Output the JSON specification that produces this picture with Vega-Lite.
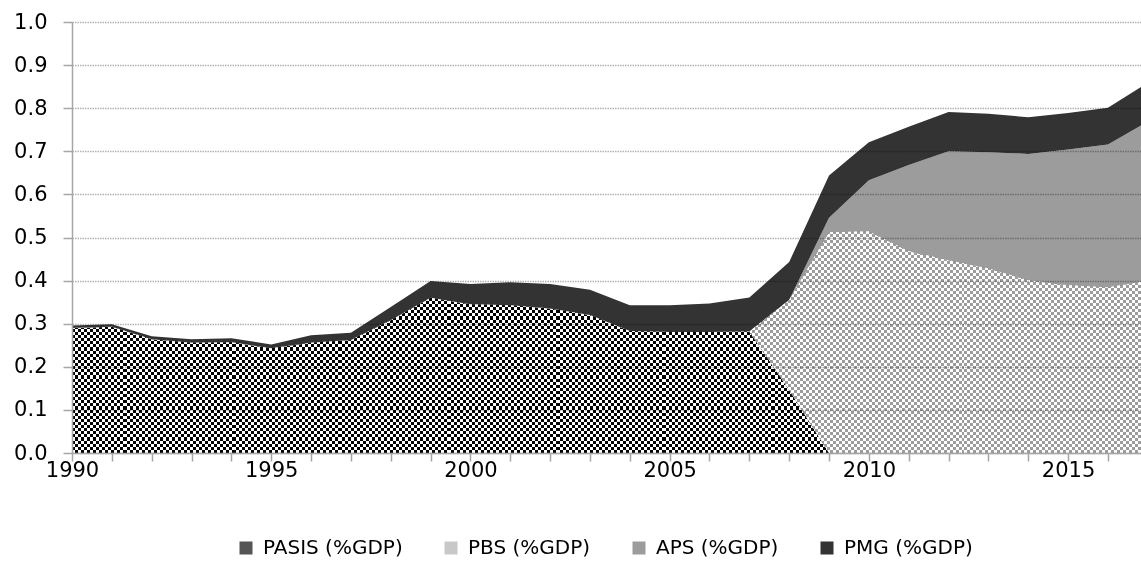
{
  "$schema": "https://vega.github.io/schema/vega-lite/v6.json",
  "width": 1069,
  "height": 431,
  "autosize": {"type": "none"},
  "padding": {"left": 72, "top": 22, "right": 0, "bottom": 110},
  "background": "#ffffff",
  "config": {"view": {"stroke": null}, "font": "DejaVu Sans"},
  "data": {
    "values": [
      {"year": 1990, "PASIS": 0.290, "PBS": 0, "APS": 0, "PMG": 0.006},
      {"year": 1991, "PASIS": 0.293, "PBS": 0, "APS": 0, "PMG": 0.006},
      {"year": 1992, "PASIS": 0.264, "PBS": 0, "APS": 0, "PMG": 0.007},
      {"year": 1993, "PASIS": 0.256, "PBS": 0, "APS": 0, "PMG": 0.008},
      {"year": 1994, "PASIS": 0.257, "PBS": 0, "APS": 0, "PMG": 0.009},
      {"year": 1995, "PASIS": 0.243, "PBS": 0, "APS": 0, "PMG": 0.009},
      {"year": 1996, "PASIS": 0.256, "PBS": 0, "APS": 0, "PMG": 0.017},
      {"year": 1997, "PASIS": 0.262, "PBS": 0, "APS": 0, "PMG": 0.017},
      {"year": 1998, "PASIS": 0.308, "PBS": 0, "APS": 0, "PMG": 0.031},
      {"year": 1999, "PASIS": 0.360, "PBS": 0, "APS": 0, "PMG": 0.039},
      {"year": 2000, "PASIS": 0.345, "PBS": 0, "APS": 0, "PMG": 0.047},
      {"year": 2001, "PASIS": 0.343, "PBS": 0, "APS": 0, "PMG": 0.053},
      {"year": 2002, "PASIS": 0.335, "PBS": 0, "APS": 0, "PMG": 0.057},
      {"year": 2003, "PASIS": 0.320, "PBS": 0, "APS": 0, "PMG": 0.059},
      {"year": 2004, "PASIS": 0.283, "PBS": 0, "APS": 0, "PMG": 0.060},
      {"year": 2005, "PASIS": 0.281, "PBS": 0, "APS": 0, "PMG": 0.062},
      {"year": 2006, "PASIS": 0.281, "PBS": 0, "APS": 0, "PMG": 0.066},
      {"year": 2007, "PASIS": 0.282, "PBS": 0, "APS": 0, "PMG": 0.079},
      {"year": 2008, "PASIS": 0.146, "PBS": 0.209, "APS": 0, "PMG": 0.088},
      {"year": 2009, "PASIS": 0, "PBS": 0.512, "APS": 0.034, "PMG": 0.098},
      {"year": 2010, "PASIS": 0, "PBS": 0.514, "APS": 0.119, "PMG": 0.088},
      {"year": 2011, "PASIS": 0, "PBS": 0.468, "APS": 0.200, "PMG": 0.089},
      {"year": 2012, "PASIS": 0, "PBS": 0.447, "APS": 0.253, "PMG": 0.091},
      {"year": 2013, "PASIS": 0, "PBS": 0.428, "APS": 0.270, "PMG": 0.089},
      {"year": 2014, "PASIS": 0, "PBS": 0.401, "APS": 0.293, "PMG": 0.085},
      {"year": 2015, "PASIS": 0, "PBS": 0.389, "APS": 0.315, "PMG": 0.085},
      {"year": 2016, "PASIS": 0, "PBS": 0.384, "APS": 0.332, "PMG": 0.085},
      {"year": 2017, "PASIS": 0, "PBS": 0.400, "APS": 0.369, "PMG": 0.090}
    ]
  },
  "transform": [
    {"fold": ["PASIS", "PBS", "APS", "PMG"], "as": ["series", "v"]},
    {"stack": "v", "groupby": ["year"], "as": ["y0", "y1"]}
  ],
  "encoding": {
    "x": {
      "field": "year", "type": "quantitative",
      "scale": {"domain": [1990, 2016.83], "nice": false, "zero": false},
      "axis": {
        "values": [1990, 1991, 1992, 1993, 1994, 1995, 1996, 1997, 1998, 1999, 2000, 2001, 2002, 2003, 2004, 2005, 2006, 2007, 2008, 2009, 2010, 2011, 2012, 2013, 2014, 2015, 2016],
        "labelExpr": "datum.value % 5 === 0 ? datum.label : ''",
        "format": "d", "title": null, "grid": false,
        "domainColor": "#a6a6a6", "domainWidth": 1.5,
        "tickColor": "#a6a6a6", "tickWidth": 1.5, "tickSize": 8,
        "labelFont": "DejaVu Sans", "labelFontSize": 21, "labelColor": "#000000",
        "labelPadding": -2, "labelOverlap": false, "labelFlush": false, "zindex": 1
      }
    },
    "y": {
      "field": "y1", "type": "quantitative",
      "scale": {"domain": [0, 1], "nice": false},
      "axis": {
        "values": [0, 0.1, 0.2, 0.3, 0.4, 0.5, 0.6, 0.7, 0.8, 0.9, 1],
        "format": ".1f", "title": null, "grid": true,
        "gridColor": "#000000", "gridOpacity": 0.3, "gridDash": [1.5, 1], "gridWidth": 1.4,
        "domainColor": "#a6a6a6", "domainWidth": 1.5,
        "tickColor": "#a6a6a6", "tickWidth": 1.5, "tickSize": 9,
        "labelFont": "DejaVu Sans", "labelFontSize": 21, "labelColor": "#000000",
        "labelPadding": 16, "zindex": 1
      }
    },
    "y2": {"field": "y0"}
  },
  "layer": [
    {
      "mark": {"type": "area"},
      "encoding": {
        "color": {
          "field": "series", "type": "nominal",
          "scale": {"domain": ["PASIS", "PBS", "APS", "PMG"], "range": ["#555555", "#c8c8c8", "#9c9c9c", "#333333"]},
          "legend": {
            "orient": "none", "legendX": 164, "legendY": 516, "direction": "horizontal",
            "title": null, "padding": 0, "symbolType": "square", "symbolSize": 169,
            "symbolStrokeWidth": 0, "symbolOpacity": 1,
            "labelFont": "DejaVu Sans", "labelFontSize": 20, "labelColor": "#000000",
            "labelOffset": 7, "columnPadding": 38,
            "labelExpr": "datum.label + ' (%GDP)'"
          }
        }
      }
    },
    {
      "transform": [{"filter": "datum.series === 'PASIS' && datum.year <= 2009"}],
      "mark": {"type": "area", "fill": {"gradient": "linear", "x1": 0, "y1": 0, "x2": 1, "y2": 0, "stops": [
        {"offset":0,"color":"#000"},
        {"offset":0.004,"color":"#000"},{"offset":0.004,"color":"#fff"},{"offset":0.008,"color":"#fff"},{"offset":0.008,"color":"#000"},{"offset":0.012,"color":"#000"},{"offset":0.012,"color":"#fff"},{"offset":0.016,"color":"#fff"},{"offset":0.016,"color":"#000"},{"offset":0.02,"color":"#000"},{"offset":0.02,"color":"#fff"},{"offset":0.024,"color":"#fff"},{"offset":0.024,"color":"#000"},{"offset":0.028,"color":"#000"},{"offset":0.028,"color":"#fff"},{"offset":0.032,"color":"#fff"},{"offset":0.032,"color":"#000"},{"offset":0.036,"color":"#000"},{"offset":0.036,"color":"#fff"},{"offset":0.04,"color":"#fff"},{"offset":0.04,"color":"#000"},
        {"offset":0.044,"color":"#000"},{"offset":0.044,"color":"#fff"},{"offset":0.048,"color":"#fff"},{"offset":0.048,"color":"#000"},{"offset":0.052,"color":"#000"},{"offset":0.052,"color":"#fff"},{"offset":0.056,"color":"#fff"},{"offset":0.056,"color":"#000"},{"offset":0.06,"color":"#000"},{"offset":0.06,"color":"#fff"},{"offset":0.064,"color":"#fff"},{"offset":0.064,"color":"#000"},{"offset":0.068,"color":"#000"},{"offset":0.068,"color":"#fff"},{"offset":0.072,"color":"#fff"},{"offset":0.072,"color":"#000"},{"offset":0.076,"color":"#000"},{"offset":0.076,"color":"#fff"},{"offset":0.08,"color":"#fff"},{"offset":0.08,"color":"#000"},
        {"offset":0.084,"color":"#000"},{"offset":0.084,"color":"#fff"},{"offset":0.088,"color":"#fff"},{"offset":0.088,"color":"#000"},{"offset":0.092,"color":"#000"},{"offset":0.092,"color":"#fff"},{"offset":0.096,"color":"#fff"},{"offset":0.096,"color":"#000"},{"offset":0.1,"color":"#000"},{"offset":0.1,"color":"#fff"},{"offset":0.104,"color":"#fff"},{"offset":0.104,"color":"#000"},{"offset":0.108,"color":"#000"},{"offset":0.108,"color":"#fff"},{"offset":0.112,"color":"#fff"},{"offset":0.112,"color":"#000"},{"offset":0.116,"color":"#000"},{"offset":0.116,"color":"#fff"},{"offset":0.12,"color":"#fff"},{"offset":0.12,"color":"#000"},
        {"offset":0.124,"color":"#000"},{"offset":0.124,"color":"#fff"},{"offset":0.128,"color":"#fff"},{"offset":0.128,"color":"#000"},{"offset":0.132,"color":"#000"},{"offset":0.132,"color":"#fff"},{"offset":0.136,"color":"#fff"},{"offset":0.136,"color":"#000"},{"offset":0.14,"color":"#000"},{"offset":0.14,"color":"#fff"},{"offset":0.144,"color":"#fff"},{"offset":0.144,"color":"#000"},{"offset":0.148,"color":"#000"},{"offset":0.148,"color":"#fff"},{"offset":0.152,"color":"#fff"},{"offset":0.152,"color":"#000"},{"offset":0.156,"color":"#000"},{"offset":0.156,"color":"#fff"},{"offset":0.16,"color":"#fff"},{"offset":0.16,"color":"#000"},
        {"offset":0.164,"color":"#000"},{"offset":0.164,"color":"#fff"},{"offset":0.168,"color":"#fff"},{"offset":0.168,"color":"#000"},{"offset":0.172,"color":"#000"},{"offset":0.172,"color":"#fff"},{"offset":0.176,"color":"#fff"},{"offset":0.176,"color":"#000"},{"offset":0.18,"color":"#000"},{"offset":0.18,"color":"#fff"},{"offset":0.184,"color":"#fff"},{"offset":0.184,"color":"#000"},{"offset":0.188,"color":"#000"},{"offset":0.188,"color":"#fff"},{"offset":0.192,"color":"#fff"},{"offset":0.192,"color":"#000"},{"offset":0.196,"color":"#000"},{"offset":0.196,"color":"#fff"},{"offset":0.2,"color":"#fff"},{"offset":0.2,"color":"#000"},
        {"offset":0.204,"color":"#000"},{"offset":0.204,"color":"#fff"},{"offset":0.208,"color":"#fff"},{"offset":0.208,"color":"#000"},{"offset":0.212,"color":"#000"},{"offset":0.212,"color":"#fff"},{"offset":0.216,"color":"#fff"},{"offset":0.216,"color":"#000"},{"offset":0.22,"color":"#000"},{"offset":0.22,"color":"#fff"},{"offset":0.224,"color":"#fff"},{"offset":0.224,"color":"#000"},{"offset":0.228,"color":"#000"},{"offset":0.228,"color":"#fff"},{"offset":0.232,"color":"#fff"},{"offset":0.232,"color":"#000"},{"offset":0.236,"color":"#000"},{"offset":0.236,"color":"#fff"},{"offset":0.24,"color":"#fff"},{"offset":0.24,"color":"#000"},
        {"offset":0.244,"color":"#000"},{"offset":0.244,"color":"#fff"},{"offset":0.248,"color":"#fff"},{"offset":0.248,"color":"#000"},{"offset":0.252,"color":"#000"},{"offset":0.252,"color":"#fff"},{"offset":0.256,"color":"#fff"},{"offset":0.256,"color":"#000"},{"offset":0.26,"color":"#000"},{"offset":0.26,"color":"#fff"},{"offset":0.264,"color":"#fff"},{"offset":0.264,"color":"#000"},{"offset":0.268,"color":"#000"},{"offset":0.268,"color":"#fff"},{"offset":0.272,"color":"#fff"},{"offset":0.272,"color":"#000"},{"offset":0.276,"color":"#000"},{"offset":0.276,"color":"#fff"},{"offset":0.28,"color":"#fff"},{"offset":0.28,"color":"#000"},
        {"offset":0.284,"color":"#000"},{"offset":0.284,"color":"#fff"},{"offset":0.288,"color":"#fff"},{"offset":0.288,"color":"#000"},{"offset":0.292,"color":"#000"},{"offset":0.292,"color":"#fff"},{"offset":0.296,"color":"#fff"},{"offset":0.296,"color":"#000"},{"offset":0.3,"color":"#000"},{"offset":0.3,"color":"#fff"},{"offset":0.304,"color":"#fff"},{"offset":0.304,"color":"#000"},{"offset":0.308,"color":"#000"},{"offset":0.308,"color":"#fff"},{"offset":0.312,"color":"#fff"},{"offset":0.312,"color":"#000"},{"offset":0.316,"color":"#000"},{"offset":0.316,"color":"#fff"},{"offset":0.32,"color":"#fff"},{"offset":0.32,"color":"#000"},
        {"offset":0.324,"color":"#000"},{"offset":0.324,"color":"#fff"},{"offset":0.328,"color":"#fff"},{"offset":0.328,"color":"#000"},{"offset":0.332,"color":"#000"},{"offset":0.332,"color":"#fff"},{"offset":0.336,"color":"#fff"},{"offset":0.336,"color":"#000"},{"offset":0.34,"color":"#000"},{"offset":0.34,"color":"#fff"},{"offset":0.344,"color":"#fff"},{"offset":0.344,"color":"#000"},{"offset":0.348,"color":"#000"},{"offset":0.348,"color":"#fff"},{"offset":0.352,"color":"#fff"},{"offset":0.352,"color":"#000"},{"offset":0.356,"color":"#000"},{"offset":0.356,"color":"#fff"},{"offset":0.36,"color":"#fff"},{"offset":0.36,"color":"#000"},
        {"offset":0.364,"color":"#000"},{"offset":0.364,"color":"#fff"},{"offset":0.368,"color":"#fff"},{"offset":0.368,"color":"#000"},{"offset":0.372,"color":"#000"},{"offset":0.372,"color":"#fff"},{"offset":0.376,"color":"#fff"},{"offset":0.376,"color":"#000"},{"offset":0.38,"color":"#000"},{"offset":0.38,"color":"#fff"},{"offset":0.384,"color":"#fff"},{"offset":0.384,"color":"#000"},{"offset":0.388,"color":"#000"},{"offset":0.388,"color":"#fff"},{"offset":0.392,"color":"#fff"},{"offset":0.392,"color":"#000"},{"offset":0.396,"color":"#000"},{"offset":0.396,"color":"#fff"},{"offset":0.4,"color":"#fff"},{"offset":0.4,"color":"#000"},
        {"offset":0.404,"color":"#000"},{"offset":0.404,"color":"#fff"},{"offset":0.408,"color":"#fff"},{"offset":0.408,"color":"#000"},{"offset":0.412,"color":"#000"},{"offset":0.412,"color":"#fff"},{"offset":0.416,"color":"#fff"},{"offset":0.416,"color":"#000"},{"offset":0.42,"color":"#000"},{"offset":0.42,"color":"#fff"},{"offset":0.424,"color":"#fff"},{"offset":0.424,"color":"#000"},{"offset":0.428,"color":"#000"},{"offset":0.428,"color":"#fff"},{"offset":0.432,"color":"#fff"},{"offset":0.432,"color":"#000"},{"offset":0.436,"color":"#000"},{"offset":0.436,"color":"#fff"},{"offset":0.44,"color":"#fff"},{"offset":0.44,"color":"#000"},
        {"offset":0.444,"color":"#000"},{"offset":0.444,"color":"#fff"},{"offset":0.448,"color":"#fff"},{"offset":0.448,"color":"#000"},{"offset":0.452,"color":"#000"},{"offset":0.452,"color":"#fff"},{"offset":0.456,"color":"#fff"},{"offset":0.456,"color":"#000"},{"offset":0.46,"color":"#000"},{"offset":0.46,"color":"#fff"},{"offset":0.464,"color":"#fff"},{"offset":0.464,"color":"#000"},{"offset":0.468,"color":"#000"},{"offset":0.468,"color":"#fff"},{"offset":0.472,"color":"#fff"},{"offset":0.472,"color":"#000"},{"offset":0.476,"color":"#000"},{"offset":0.476,"color":"#fff"},{"offset":0.48,"color":"#fff"},{"offset":0.48,"color":"#000"},
        {"offset":0.484,"color":"#000"},{"offset":0.484,"color":"#fff"},{"offset":0.488,"color":"#fff"},{"offset":0.488,"color":"#000"},{"offset":0.492,"color":"#000"},{"offset":0.492,"color":"#fff"},{"offset":0.496,"color":"#fff"},{"offset":0.496,"color":"#000"},{"offset":0.5,"color":"#000"},{"offset":0.5,"color":"#fff"},{"offset":0.504,"color":"#fff"},{"offset":0.504,"color":"#000"},{"offset":0.508,"color":"#000"},{"offset":0.508,"color":"#fff"},{"offset":0.512,"color":"#fff"},{"offset":0.512,"color":"#000"},{"offset":0.516,"color":"#000"},{"offset":0.516,"color":"#fff"},{"offset":0.52,"color":"#fff"},{"offset":0.52,"color":"#000"},
        {"offset":0.524,"color":"#000"},{"offset":0.524,"color":"#fff"},{"offset":0.528,"color":"#fff"},{"offset":0.528,"color":"#000"},{"offset":0.532,"color":"#000"},{"offset":0.532,"color":"#fff"},{"offset":0.536,"color":"#fff"},{"offset":0.536,"color":"#000"},{"offset":0.54,"color":"#000"},{"offset":0.54,"color":"#fff"},{"offset":0.544,"color":"#fff"},{"offset":0.544,"color":"#000"},{"offset":0.548,"color":"#000"},{"offset":0.548,"color":"#fff"},{"offset":0.552,"color":"#fff"},{"offset":0.552,"color":"#000"},{"offset":0.556,"color":"#000"},{"offset":0.556,"color":"#fff"},{"offset":0.56,"color":"#fff"},{"offset":0.56,"color":"#000"},
        {"offset":0.564,"color":"#000"},{"offset":0.564,"color":"#fff"},{"offset":0.568,"color":"#fff"},{"offset":0.568,"color":"#000"},{"offset":0.572,"color":"#000"},{"offset":0.572,"color":"#fff"},{"offset":0.576,"color":"#fff"},{"offset":0.576,"color":"#000"},{"offset":0.58,"color":"#000"},{"offset":0.58,"color":"#fff"},{"offset":0.584,"color":"#fff"},{"offset":0.584,"color":"#000"},{"offset":0.588,"color":"#000"},{"offset":0.588,"color":"#fff"},{"offset":0.592,"color":"#fff"},{"offset":0.592,"color":"#000"},{"offset":0.596,"color":"#000"},{"offset":0.596,"color":"#fff"},{"offset":0.6,"color":"#fff"},{"offset":0.6,"color":"#000"},
        {"offset":0.604,"color":"#000"},{"offset":0.604,"color":"#fff"},{"offset":0.608,"color":"#fff"},{"offset":0.608,"color":"#000"},{"offset":0.612,"color":"#000"},{"offset":0.612,"color":"#fff"},{"offset":0.616,"color":"#fff"},{"offset":0.616,"color":"#000"},{"offset":0.62,"color":"#000"},{"offset":0.62,"color":"#fff"},{"offset":0.624,"color":"#fff"},{"offset":0.624,"color":"#000"},{"offset":0.628,"color":"#000"},{"offset":0.628,"color":"#fff"},{"offset":0.632,"color":"#fff"},{"offset":0.632,"color":"#000"},{"offset":0.636,"color":"#000"},{"offset":0.636,"color":"#fff"},{"offset":0.64,"color":"#fff"},{"offset":0.64,"color":"#000"},
        {"offset":0.644,"color":"#000"},{"offset":0.644,"color":"#fff"},{"offset":0.648,"color":"#fff"},{"offset":0.648,"color":"#000"},{"offset":0.652,"color":"#000"},{"offset":0.652,"color":"#fff"},{"offset":0.656,"color":"#fff"},{"offset":0.656,"color":"#000"},{"offset":0.66,"color":"#000"},{"offset":0.66,"color":"#fff"},{"offset":0.664,"color":"#fff"},{"offset":0.664,"color":"#000"},{"offset":0.668,"color":"#000"},{"offset":0.668,"color":"#fff"},{"offset":0.672,"color":"#fff"},{"offset":0.672,"color":"#000"},{"offset":0.676,"color":"#000"},{"offset":0.676,"color":"#fff"},{"offset":0.68,"color":"#fff"},{"offset":0.68,"color":"#000"},
        {"offset":0.684,"color":"#000"},{"offset":0.684,"color":"#fff"},{"offset":0.688,"color":"#fff"},{"offset":0.688,"color":"#000"},{"offset":0.692,"color":"#000"},{"offset":0.692,"color":"#fff"},{"offset":0.696,"color":"#fff"},{"offset":0.696,"color":"#000"},{"offset":0.7,"color":"#000"},{"offset":0.7,"color":"#fff"},{"offset":0.704,"color":"#fff"},{"offset":0.704,"color":"#000"},{"offset":0.708,"color":"#000"},{"offset":0.708,"color":"#fff"},{"offset":0.712,"color":"#fff"},{"offset":0.712,"color":"#000"},{"offset":0.716,"color":"#000"},{"offset":0.716,"color":"#fff"},{"offset":0.72,"color":"#fff"},{"offset":0.72,"color":"#000"},
        {"offset":0.724,"color":"#000"},{"offset":0.724,"color":"#fff"},{"offset":0.728,"color":"#fff"},{"offset":0.728,"color":"#000"},{"offset":0.732,"color":"#000"},{"offset":0.732,"color":"#fff"},{"offset":0.736,"color":"#fff"},{"offset":0.736,"color":"#000"},{"offset":0.74,"color":"#000"},{"offset":0.74,"color":"#fff"},{"offset":0.744,"color":"#fff"},{"offset":0.744,"color":"#000"},{"offset":0.748,"color":"#000"},{"offset":0.748,"color":"#fff"},{"offset":0.752,"color":"#fff"},{"offset":0.752,"color":"#000"},{"offset":0.756,"color":"#000"},{"offset":0.756,"color":"#fff"},{"offset":0.76,"color":"#fff"},{"offset":0.76,"color":"#000"},
        {"offset":0.764,"color":"#000"},{"offset":0.764,"color":"#fff"},{"offset":0.768,"color":"#fff"},{"offset":0.768,"color":"#000"},{"offset":0.772,"color":"#000"},{"offset":0.772,"color":"#fff"},{"offset":0.776,"color":"#fff"},{"offset":0.776,"color":"#000"},{"offset":0.78,"color":"#000"},{"offset":0.78,"color":"#fff"},{"offset":0.784,"color":"#fff"},{"offset":0.784,"color":"#000"},{"offset":0.788,"color":"#000"},{"offset":0.788,"color":"#fff"},{"offset":0.792,"color":"#fff"},{"offset":0.792,"color":"#000"},{"offset":0.796,"color":"#000"},{"offset":0.796,"color":"#fff"},{"offset":0.8,"color":"#fff"},{"offset":0.8,"color":"#000"},
        {"offset":0.804,"color":"#000"},{"offset":0.804,"color":"#fff"},{"offset":0.808,"color":"#fff"},{"offset":0.808,"color":"#000"},{"offset":0.812,"color":"#000"},{"offset":0.812,"color":"#fff"},{"offset":0.816,"color":"#fff"},{"offset":0.816,"color":"#000"},{"offset":0.82,"color":"#000"},{"offset":0.82,"color":"#fff"},{"offset":0.824,"color":"#fff"},{"offset":0.824,"color":"#000"},{"offset":0.828,"color":"#000"},{"offset":0.828,"color":"#fff"},{"offset":0.832,"color":"#fff"},{"offset":0.832,"color":"#000"},{"offset":0.836,"color":"#000"},{"offset":0.836,"color":"#fff"},{"offset":0.84,"color":"#fff"},{"offset":0.84,"color":"#000"},
        {"offset":0.844,"color":"#000"},{"offset":0.844,"color":"#fff"},{"offset":0.848,"color":"#fff"},{"offset":0.848,"color":"#000"},{"offset":0.852,"color":"#000"},{"offset":0.852,"color":"#fff"},{"offset":0.856,"color":"#fff"},{"offset":0.856,"color":"#000"},{"offset":0.86,"color":"#000"},{"offset":0.86,"color":"#fff"},{"offset":0.864,"color":"#fff"},{"offset":0.864,"color":"#000"},{"offset":0.868,"color":"#000"},{"offset":0.868,"color":"#fff"},{"offset":0.872,"color":"#fff"},{"offset":0.872,"color":"#000"},{"offset":0.876,"color":"#000"},{"offset":0.876,"color":"#fff"},{"offset":0.88,"color":"#fff"},{"offset":0.88,"color":"#000"},
        {"offset":0.884,"color":"#000"},{"offset":0.884,"color":"#fff"},{"offset":0.888,"color":"#fff"},{"offset":0.888,"color":"#000"},{"offset":0.892,"color":"#000"},{"offset":0.892,"color":"#fff"},{"offset":0.896,"color":"#fff"},{"offset":0.896,"color":"#000"},{"offset":0.9,"color":"#000"},{"offset":0.9,"color":"#fff"},{"offset":0.904,"color":"#fff"},{"offset":0.904,"color":"#000"},{"offset":0.908,"color":"#000"},{"offset":0.908,"color":"#fff"},{"offset":0.912,"color":"#fff"},{"offset":0.912,"color":"#000"},{"offset":0.916,"color":"#000"},{"offset":0.916,"color":"#fff"},{"offset":0.92,"color":"#fff"},{"offset":0.92,"color":"#000"},
        {"offset":0.924,"color":"#000"},{"offset":0.924,"color":"#fff"},{"offset":0.928,"color":"#fff"},{"offset":0.928,"color":"#000"},{"offset":0.932,"color":"#000"},{"offset":0.932,"color":"#fff"},{"offset":0.936,"color":"#fff"},{"offset":0.936,"color":"#000"},{"offset":0.94,"color":"#000"},{"offset":0.94,"color":"#fff"},{"offset":0.944,"color":"#fff"},{"offset":0.944,"color":"#000"},{"offset":0.948,"color":"#000"},{"offset":0.948,"color":"#fff"},{"offset":0.952,"color":"#fff"},{"offset":0.952,"color":"#000"},{"offset":0.956,"color":"#000"},{"offset":0.956,"color":"#fff"},{"offset":0.96,"color":"#fff"},{"offset":0.96,"color":"#000"},
        {"offset":0.964,"color":"#000"},{"offset":0.964,"color":"#fff"},{"offset":0.968,"color":"#fff"},{"offset":0.968,"color":"#000"},{"offset":0.972,"color":"#000"},{"offset":0.972,"color":"#fff"},{"offset":0.976,"color":"#fff"},{"offset":0.976,"color":"#000"},{"offset":0.98,"color":"#000"},{"offset":0.98,"color":"#fff"},{"offset":0.984,"color":"#fff"},{"offset":0.984,"color":"#000"},{"offset":0.988,"color":"#000"},{"offset":0.988,"color":"#fff"},{"offset":0.992,"color":"#fff"},{"offset":0.992,"color":"#000"},{"offset":0.996,"color":"#000"},{"offset":0.996,"color":"#fff"},
        {"offset":1,"color":"#fff"}
      ]}}
    },
    {
      "transform": [{"filter": "datum.series === 'PASIS' && datum.year <= 2009"}],
      "mark": {"type": "area", "blend": "difference", "fill": {"gradient": "linear", "x1": 0, "y1": 0, "x2": 0, "y2": 1, "stops": [
        {"offset":0,"color":"#000"},
        {"offset":0.02,"color":"#000"},{"offset":0.02,"color":"#fff"},{"offset":0.04,"color":"#fff"},{"offset":0.04,"color":"#000"},{"offset":0.06,"color":"#000"},{"offset":0.06,"color":"#fff"},{"offset":0.08,"color":"#fff"},{"offset":0.08,"color":"#000"},{"offset":0.1,"color":"#000"},{"offset":0.1,"color":"#fff"},{"offset":0.12,"color":"#fff"},{"offset":0.12,"color":"#000"},{"offset":0.14,"color":"#000"},{"offset":0.14,"color":"#fff"},{"offset":0.16,"color":"#fff"},{"offset":0.16,"color":"#000"},{"offset":0.18,"color":"#000"},{"offset":0.18,"color":"#fff"},{"offset":0.2,"color":"#fff"},{"offset":0.2,"color":"#000"},
        {"offset":0.22,"color":"#000"},{"offset":0.22,"color":"#fff"},{"offset":0.24,"color":"#fff"},{"offset":0.24,"color":"#000"},{"offset":0.26,"color":"#000"},{"offset":0.26,"color":"#fff"},{"offset":0.28,"color":"#fff"},{"offset":0.28,"color":"#000"},{"offset":0.3,"color":"#000"},{"offset":0.3,"color":"#fff"},{"offset":0.32,"color":"#fff"},{"offset":0.32,"color":"#000"},{"offset":0.34,"color":"#000"},{"offset":0.34,"color":"#fff"},{"offset":0.36,"color":"#fff"},{"offset":0.36,"color":"#000"},{"offset":0.38,"color":"#000"},{"offset":0.38,"color":"#fff"},{"offset":0.4,"color":"#fff"},{"offset":0.4,"color":"#000"},
        {"offset":0.42,"color":"#000"},{"offset":0.42,"color":"#fff"},{"offset":0.44,"color":"#fff"},{"offset":0.44,"color":"#000"},{"offset":0.46,"color":"#000"},{"offset":0.46,"color":"#fff"},{"offset":0.48,"color":"#fff"},{"offset":0.48,"color":"#000"},{"offset":0.5,"color":"#000"},{"offset":0.5,"color":"#fff"},{"offset":0.52,"color":"#fff"},{"offset":0.52,"color":"#000"},{"offset":0.54,"color":"#000"},{"offset":0.54,"color":"#fff"},{"offset":0.56,"color":"#fff"},{"offset":0.56,"color":"#000"},{"offset":0.58,"color":"#000"},{"offset":0.58,"color":"#fff"},{"offset":0.6,"color":"#fff"},{"offset":0.6,"color":"#000"},
        {"offset":0.62,"color":"#000"},{"offset":0.62,"color":"#fff"},{"offset":0.64,"color":"#fff"},{"offset":0.64,"color":"#000"},{"offset":0.66,"color":"#000"},{"offset":0.66,"color":"#fff"},{"offset":0.68,"color":"#fff"},{"offset":0.68,"color":"#000"},{"offset":0.7,"color":"#000"},{"offset":0.7,"color":"#fff"},{"offset":0.72,"color":"#fff"},{"offset":0.72,"color":"#000"},{"offset":0.74,"color":"#000"},{"offset":0.74,"color":"#fff"},{"offset":0.76,"color":"#fff"},{"offset":0.76,"color":"#000"},{"offset":0.78,"color":"#000"},{"offset":0.78,"color":"#fff"},{"offset":0.8,"color":"#fff"},{"offset":0.8,"color":"#000"},
        {"offset":0.82,"color":"#000"},{"offset":0.82,"color":"#fff"},{"offset":0.84,"color":"#fff"},{"offset":0.84,"color":"#000"},{"offset":0.86,"color":"#000"},{"offset":0.86,"color":"#fff"},{"offset":0.88,"color":"#fff"},{"offset":0.88,"color":"#000"},{"offset":0.9,"color":"#000"},{"offset":0.9,"color":"#fff"},{"offset":0.92,"color":"#fff"},{"offset":0.92,"color":"#000"},{"offset":0.94,"color":"#000"},{"offset":0.94,"color":"#fff"},{"offset":0.96,"color":"#fff"},{"offset":0.96,"color":"#000"},{"offset":0.98,"color":"#000"},{"offset":0.98,"color":"#fff"},
        {"offset":1,"color":"#fff"}
      ]}}
    },
    {
      "transform": [{"filter": "datum.series === 'PBS' && datum.year >= 2007"}],
      "mark": {"type": "area", "fill": {"gradient": "linear", "x1": 0, "y1": 0, "x2": 1, "y2": 0, "stops": [
        {"offset":0,"color":"#000"},
        {"offset":0.0075,"color":"#000"},{"offset":0.0075,"color":"#fff"},{"offset":0.015,"color":"#fff"},{"offset":0.015,"color":"#000"},{"offset":0.0225,"color":"#000"},{"offset":0.0225,"color":"#fff"},{"offset":0.03,"color":"#fff"},{"offset":0.03,"color":"#000"},{"offset":0.0375,"color":"#000"},{"offset":0.0375,"color":"#fff"},{"offset":0.045,"color":"#fff"},{"offset":0.045,"color":"#000"},{"offset":0.0525,"color":"#000"},{"offset":0.0525,"color":"#fff"},{"offset":0.06,"color":"#fff"},{"offset":0.06,"color":"#000"},{"offset":0.0675,"color":"#000"},{"offset":0.0675,"color":"#fff"},{"offset":0.075,"color":"#fff"},{"offset":0.075,"color":"#000"},
        {"offset":0.0825,"color":"#000"},{"offset":0.0825,"color":"#fff"},{"offset":0.09,"color":"#fff"},{"offset":0.09,"color":"#000"},{"offset":0.0975,"color":"#000"},{"offset":0.0975,"color":"#fff"},{"offset":0.105,"color":"#fff"},{"offset":0.105,"color":"#000"},{"offset":0.1125,"color":"#000"},{"offset":0.1125,"color":"#fff"},{"offset":0.12,"color":"#fff"},{"offset":0.12,"color":"#000"},{"offset":0.1275,"color":"#000"},{"offset":0.1275,"color":"#fff"},{"offset":0.135,"color":"#fff"},{"offset":0.135,"color":"#000"},{"offset":0.1425,"color":"#000"},{"offset":0.1425,"color":"#fff"},{"offset":0.15,"color":"#fff"},{"offset":0.15,"color":"#000"},
        {"offset":0.1575,"color":"#000"},{"offset":0.1575,"color":"#fff"},{"offset":0.165,"color":"#fff"},{"offset":0.165,"color":"#000"},{"offset":0.1725,"color":"#000"},{"offset":0.1725,"color":"#fff"},{"offset":0.18,"color":"#fff"},{"offset":0.18,"color":"#000"},{"offset":0.1875,"color":"#000"},{"offset":0.1875,"color":"#fff"},{"offset":0.195,"color":"#fff"},{"offset":0.195,"color":"#000"},{"offset":0.2025,"color":"#000"},{"offset":0.2025,"color":"#fff"},{"offset":0.21,"color":"#fff"},{"offset":0.21,"color":"#000"},{"offset":0.2175,"color":"#000"},{"offset":0.2175,"color":"#fff"},{"offset":0.225,"color":"#fff"},{"offset":0.225,"color":"#000"},
        {"offset":0.2325,"color":"#000"},{"offset":0.2325,"color":"#fff"},{"offset":0.24,"color":"#fff"},{"offset":0.24,"color":"#000"},{"offset":0.2475,"color":"#000"},{"offset":0.2475,"color":"#fff"},{"offset":0.255,"color":"#fff"},{"offset":0.255,"color":"#000"},{"offset":0.2625,"color":"#000"},{"offset":0.2625,"color":"#fff"},{"offset":0.27,"color":"#fff"},{"offset":0.27,"color":"#000"},{"offset":0.2775,"color":"#000"},{"offset":0.2775,"color":"#fff"},{"offset":0.285,"color":"#fff"},{"offset":0.285,"color":"#000"},{"offset":0.2925,"color":"#000"},{"offset":0.2925,"color":"#fff"},{"offset":0.3,"color":"#fff"},{"offset":0.3,"color":"#000"},
        {"offset":0.3075,"color":"#000"},{"offset":0.3075,"color":"#fff"},{"offset":0.315,"color":"#fff"},{"offset":0.315,"color":"#000"},{"offset":0.3225,"color":"#000"},{"offset":0.3225,"color":"#fff"},{"offset":0.33,"color":"#fff"},{"offset":0.33,"color":"#000"},{"offset":0.3375,"color":"#000"},{"offset":0.3375,"color":"#fff"},{"offset":0.345,"color":"#fff"},{"offset":0.345,"color":"#000"},{"offset":0.3525,"color":"#000"},{"offset":0.3525,"color":"#fff"},{"offset":0.36,"color":"#fff"},{"offset":0.36,"color":"#000"},{"offset":0.3675,"color":"#000"},{"offset":0.3675,"color":"#fff"},{"offset":0.375,"color":"#fff"},{"offset":0.375,"color":"#000"},
        {"offset":0.3825,"color":"#000"},{"offset":0.3825,"color":"#fff"},{"offset":0.39,"color":"#fff"},{"offset":0.39,"color":"#000"},{"offset":0.3975,"color":"#000"},{"offset":0.3975,"color":"#fff"},{"offset":0.405,"color":"#fff"},{"offset":0.405,"color":"#000"},{"offset":0.4125,"color":"#000"},{"offset":0.4125,"color":"#fff"},{"offset":0.42,"color":"#fff"},{"offset":0.42,"color":"#000"},{"offset":0.4275,"color":"#000"},{"offset":0.4275,"color":"#fff"},{"offset":0.435,"color":"#fff"},{"offset":0.435,"color":"#000"},{"offset":0.4425,"color":"#000"},{"offset":0.4425,"color":"#fff"},{"offset":0.45,"color":"#fff"},{"offset":0.45,"color":"#000"},
        {"offset":0.4575,"color":"#000"},{"offset":0.4575,"color":"#fff"},{"offset":0.465,"color":"#fff"},{"offset":0.465,"color":"#000"},{"offset":0.4725,"color":"#000"},{"offset":0.4725,"color":"#fff"},{"offset":0.48,"color":"#fff"},{"offset":0.48,"color":"#000"},{"offset":0.4875,"color":"#000"},{"offset":0.4875,"color":"#fff"},{"offset":0.495,"color":"#fff"},{"offset":0.495,"color":"#000"},{"offset":0.5025,"color":"#000"},{"offset":0.5025,"color":"#fff"},{"offset":0.51,"color":"#fff"},{"offset":0.51,"color":"#000"},{"offset":0.5175,"color":"#000"},{"offset":0.5175,"color":"#fff"},{"offset":0.525,"color":"#fff"},{"offset":0.525,"color":"#000"},
        {"offset":0.5325,"color":"#000"},{"offset":0.5325,"color":"#fff"},{"offset":0.54,"color":"#fff"},{"offset":0.54,"color":"#000"},{"offset":0.5475,"color":"#000"},{"offset":0.5475,"color":"#fff"},{"offset":0.555,"color":"#fff"},{"offset":0.555,"color":"#000"},{"offset":0.5625,"color":"#000"},{"offset":0.5625,"color":"#fff"},{"offset":0.57,"color":"#fff"},{"offset":0.57,"color":"#000"},{"offset":0.5775,"color":"#000"},{"offset":0.5775,"color":"#fff"},{"offset":0.585,"color":"#fff"},{"offset":0.585,"color":"#000"},{"offset":0.5925,"color":"#000"},{"offset":0.5925,"color":"#fff"},{"offset":0.6,"color":"#fff"},{"offset":0.6,"color":"#000"},
        {"offset":0.6075,"color":"#000"},{"offset":0.6075,"color":"#fff"},{"offset":0.615,"color":"#fff"},{"offset":0.615,"color":"#000"},{"offset":0.6225,"color":"#000"},{"offset":0.6225,"color":"#fff"},{"offset":0.63,"color":"#fff"},{"offset":0.63,"color":"#000"},{"offset":0.6375,"color":"#000"},{"offset":0.6375,"color":"#fff"},{"offset":0.645,"color":"#fff"},{"offset":0.645,"color":"#000"},{"offset":0.6525,"color":"#000"},{"offset":0.6525,"color":"#fff"},{"offset":0.66,"color":"#fff"},{"offset":0.66,"color":"#000"},{"offset":0.6675,"color":"#000"},{"offset":0.6675,"color":"#fff"},{"offset":0.675,"color":"#fff"},{"offset":0.675,"color":"#000"},
        {"offset":0.6825,"color":"#000"},{"offset":0.6825,"color":"#fff"},{"offset":0.69,"color":"#fff"},{"offset":0.69,"color":"#000"},{"offset":0.6975,"color":"#000"},{"offset":0.6975,"color":"#fff"},{"offset":0.705,"color":"#fff"},{"offset":0.705,"color":"#000"},{"offset":0.7125,"color":"#000"},{"offset":0.7125,"color":"#fff"},{"offset":0.72,"color":"#fff"},{"offset":0.72,"color":"#000"},{"offset":0.7275,"color":"#000"},{"offset":0.7275,"color":"#fff"},{"offset":0.735,"color":"#fff"},{"offset":0.735,"color":"#000"},{"offset":0.7425,"color":"#000"},{"offset":0.7425,"color":"#fff"},{"offset":0.75,"color":"#fff"},{"offset":0.75,"color":"#000"},
        {"offset":0.7575,"color":"#000"},{"offset":0.7575,"color":"#fff"},{"offset":0.765,"color":"#fff"},{"offset":0.765,"color":"#000"},{"offset":0.7725,"color":"#000"},{"offset":0.7725,"color":"#fff"},{"offset":0.78,"color":"#fff"},{"offset":0.78,"color":"#000"},{"offset":0.7875,"color":"#000"},{"offset":0.7875,"color":"#fff"},{"offset":0.795,"color":"#fff"},{"offset":0.795,"color":"#000"},{"offset":0.8025,"color":"#000"},{"offset":0.8025,"color":"#fff"},{"offset":0.81,"color":"#fff"},{"offset":0.81,"color":"#000"},{"offset":0.8175,"color":"#000"},{"offset":0.8175,"color":"#fff"},{"offset":0.825,"color":"#fff"},{"offset":0.825,"color":"#000"},
        {"offset":0.8325,"color":"#000"},{"offset":0.8325,"color":"#fff"},{"offset":0.84,"color":"#fff"},{"offset":0.84,"color":"#000"},{"offset":0.8475,"color":"#000"},{"offset":0.8475,"color":"#fff"},{"offset":0.855,"color":"#fff"},{"offset":0.855,"color":"#000"},{"offset":0.8625,"color":"#000"},{"offset":0.8625,"color":"#fff"},{"offset":0.87,"color":"#fff"},{"offset":0.87,"color":"#000"},{"offset":0.8775,"color":"#000"},{"offset":0.8775,"color":"#fff"},{"offset":0.885,"color":"#fff"},{"offset":0.885,"color":"#000"},{"offset":0.8925,"color":"#000"},{"offset":0.8925,"color":"#fff"},{"offset":0.9,"color":"#fff"},{"offset":0.9,"color":"#000"},
        {"offset":0.9075,"color":"#000"},{"offset":0.9075,"color":"#fff"},{"offset":0.915,"color":"#fff"},{"offset":0.915,"color":"#000"},{"offset":0.9225,"color":"#000"},{"offset":0.9225,"color":"#fff"},{"offset":0.93,"color":"#fff"},{"offset":0.93,"color":"#000"},{"offset":0.9375,"color":"#000"},{"offset":0.9375,"color":"#fff"},{"offset":0.945,"color":"#fff"},{"offset":0.945,"color":"#000"},{"offset":0.9525,"color":"#000"},{"offset":0.9525,"color":"#fff"},{"offset":0.96,"color":"#fff"},{"offset":0.96,"color":"#000"},{"offset":0.9675,"color":"#000"},{"offset":0.9675,"color":"#fff"},{"offset":0.975,"color":"#fff"},{"offset":0.975,"color":"#000"},
        {"offset":0.9825,"color":"#000"},{"offset":0.9825,"color":"#fff"},{"offset":0.99,"color":"#fff"},{"offset":0.99,"color":"#000"},{"offset":0.9975,"color":"#000"},{"offset":0.9975,"color":"#fff"},
        {"offset":1,"color":"#fff"}
      ]}}
    },
    {
      "transform": [{"filter": "datum.series === 'PBS' && datum.year >= 2007"}],
      "mark": {"type": "area", "blend": "difference", "fill": {"gradient": "linear", "x1": 0, "y1": 0, "x2": 0, "y2": 1, "stops": [
        {"offset":0,"color":"#000"},
        {"offset":0.0135,"color":"#000"},{"offset":0.0135,"color":"#fff"},{"offset":0.027,"color":"#fff"},{"offset":0.027,"color":"#000"},{"offset":0.0405,"color":"#000"},{"offset":0.0405,"color":"#fff"},{"offset":0.054,"color":"#fff"},{"offset":0.054,"color":"#000"},{"offset":0.0675,"color":"#000"},{"offset":0.0675,"color":"#fff"},{"offset":0.081,"color":"#fff"},{"offset":0.081,"color":"#000"},{"offset":0.0945,"color":"#000"},{"offset":0.0945,"color":"#fff"},{"offset":0.108,"color":"#fff"},{"offset":0.108,"color":"#000"},{"offset":0.1215,"color":"#000"},{"offset":0.1215,"color":"#fff"},{"offset":0.135,"color":"#fff"},{"offset":0.135,"color":"#000"},
        {"offset":0.1485,"color":"#000"},{"offset":0.1485,"color":"#fff"},{"offset":0.162,"color":"#fff"},{"offset":0.162,"color":"#000"},{"offset":0.1755,"color":"#000"},{"offset":0.1755,"color":"#fff"},{"offset":0.189,"color":"#fff"},{"offset":0.189,"color":"#000"},{"offset":0.2025,"color":"#000"},{"offset":0.2025,"color":"#fff"},{"offset":0.216,"color":"#fff"},{"offset":0.216,"color":"#000"},{"offset":0.2295,"color":"#000"},{"offset":0.2295,"color":"#fff"},{"offset":0.243,"color":"#fff"},{"offset":0.243,"color":"#000"},{"offset":0.2565,"color":"#000"},{"offset":0.2565,"color":"#fff"},{"offset":0.27,"color":"#fff"},{"offset":0.27,"color":"#000"},
        {"offset":0.2835,"color":"#000"},{"offset":0.2835,"color":"#fff"},{"offset":0.297,"color":"#fff"},{"offset":0.297,"color":"#000"},{"offset":0.3105,"color":"#000"},{"offset":0.3105,"color":"#fff"},{"offset":0.324,"color":"#fff"},{"offset":0.324,"color":"#000"},{"offset":0.3375,"color":"#000"},{"offset":0.3375,"color":"#fff"},{"offset":0.351,"color":"#fff"},{"offset":0.351,"color":"#000"},{"offset":0.3645,"color":"#000"},{"offset":0.3645,"color":"#fff"},{"offset":0.378,"color":"#fff"},{"offset":0.378,"color":"#000"},{"offset":0.3915,"color":"#000"},{"offset":0.3915,"color":"#fff"},{"offset":0.405,"color":"#fff"},{"offset":0.405,"color":"#000"},
        {"offset":0.4185,"color":"#000"},{"offset":0.4185,"color":"#fff"},{"offset":0.432,"color":"#fff"},{"offset":0.432,"color":"#000"},{"offset":0.4455,"color":"#000"},{"offset":0.4455,"color":"#fff"},{"offset":0.459,"color":"#fff"},{"offset":0.459,"color":"#000"},{"offset":0.4725,"color":"#000"},{"offset":0.4725,"color":"#fff"},{"offset":0.486,"color":"#fff"},{"offset":0.486,"color":"#000"},{"offset":0.4995,"color":"#000"},{"offset":0.4995,"color":"#fff"},{"offset":0.513,"color":"#fff"},{"offset":0.513,"color":"#000"},{"offset":0.5265,"color":"#000"},{"offset":0.5265,"color":"#fff"},{"offset":0.54,"color":"#fff"},{"offset":0.54,"color":"#000"},
        {"offset":0.5535,"color":"#000"},{"offset":0.5535,"color":"#fff"},{"offset":0.567,"color":"#fff"},{"offset":0.567,"color":"#000"},{"offset":0.5805,"color":"#000"},{"offset":0.5805,"color":"#fff"},{"offset":0.594,"color":"#fff"},{"offset":0.594,"color":"#000"},{"offset":0.6075,"color":"#000"},{"offset":0.6075,"color":"#fff"},{"offset":0.621,"color":"#fff"},{"offset":0.621,"color":"#000"},{"offset":0.6345,"color":"#000"},{"offset":0.6345,"color":"#fff"},{"offset":0.648,"color":"#fff"},{"offset":0.648,"color":"#000"},{"offset":0.6615,"color":"#000"},{"offset":0.6615,"color":"#fff"},{"offset":0.675,"color":"#fff"},{"offset":0.675,"color":"#000"},
        {"offset":0.6885,"color":"#000"},{"offset":0.6885,"color":"#fff"},{"offset":0.702,"color":"#fff"},{"offset":0.702,"color":"#000"},{"offset":0.7155,"color":"#000"},{"offset":0.7155,"color":"#fff"},{"offset":0.729,"color":"#fff"},{"offset":0.729,"color":"#000"},{"offset":0.7425,"color":"#000"},{"offset":0.7425,"color":"#fff"},{"offset":0.756,"color":"#fff"},{"offset":0.756,"color":"#000"},{"offset":0.7695,"color":"#000"},{"offset":0.7695,"color":"#fff"},{"offset":0.783,"color":"#fff"},{"offset":0.783,"color":"#000"},{"offset":0.7965,"color":"#000"},{"offset":0.7965,"color":"#fff"},{"offset":0.81,"color":"#fff"},{"offset":0.81,"color":"#000"},
        {"offset":0.8235,"color":"#000"},{"offset":0.8235,"color":"#fff"},{"offset":0.837,"color":"#fff"},{"offset":0.837,"color":"#000"},{"offset":0.8505,"color":"#000"},{"offset":0.8505,"color":"#fff"},{"offset":0.864,"color":"#fff"},{"offset":0.864,"color":"#000"},{"offset":0.8775,"color":"#000"},{"offset":0.8775,"color":"#fff"},{"offset":0.891,"color":"#fff"},{"offset":0.891,"color":"#000"},{"offset":0.9045,"color":"#000"},{"offset":0.9045,"color":"#fff"},{"offset":0.918,"color":"#fff"},{"offset":0.918,"color":"#000"},{"offset":0.9315,"color":"#000"},{"offset":0.9315,"color":"#fff"},{"offset":0.945,"color":"#fff"},{"offset":0.945,"color":"#000"},
        {"offset":0.9585,"color":"#000"},{"offset":0.9585,"color":"#fff"},{"offset":0.972,"color":"#fff"},{"offset":0.972,"color":"#000"},{"offset":0.9855,"color":"#000"},{"offset":0.9855,"color":"#fff"},{"offset":0.999,"color":"#fff"},{"offset":0.999,"color":"#000"},
        {"offset":1,"color":"#000"}
      ]}}
    },
    {
      "transform": [{"filter": "datum.series === 'PBS' && datum.year >= 2007"}],
      "mark": {"type": "area", "blend": "screen", "fill": "#9c9c9c"}
    }
  ]
}
